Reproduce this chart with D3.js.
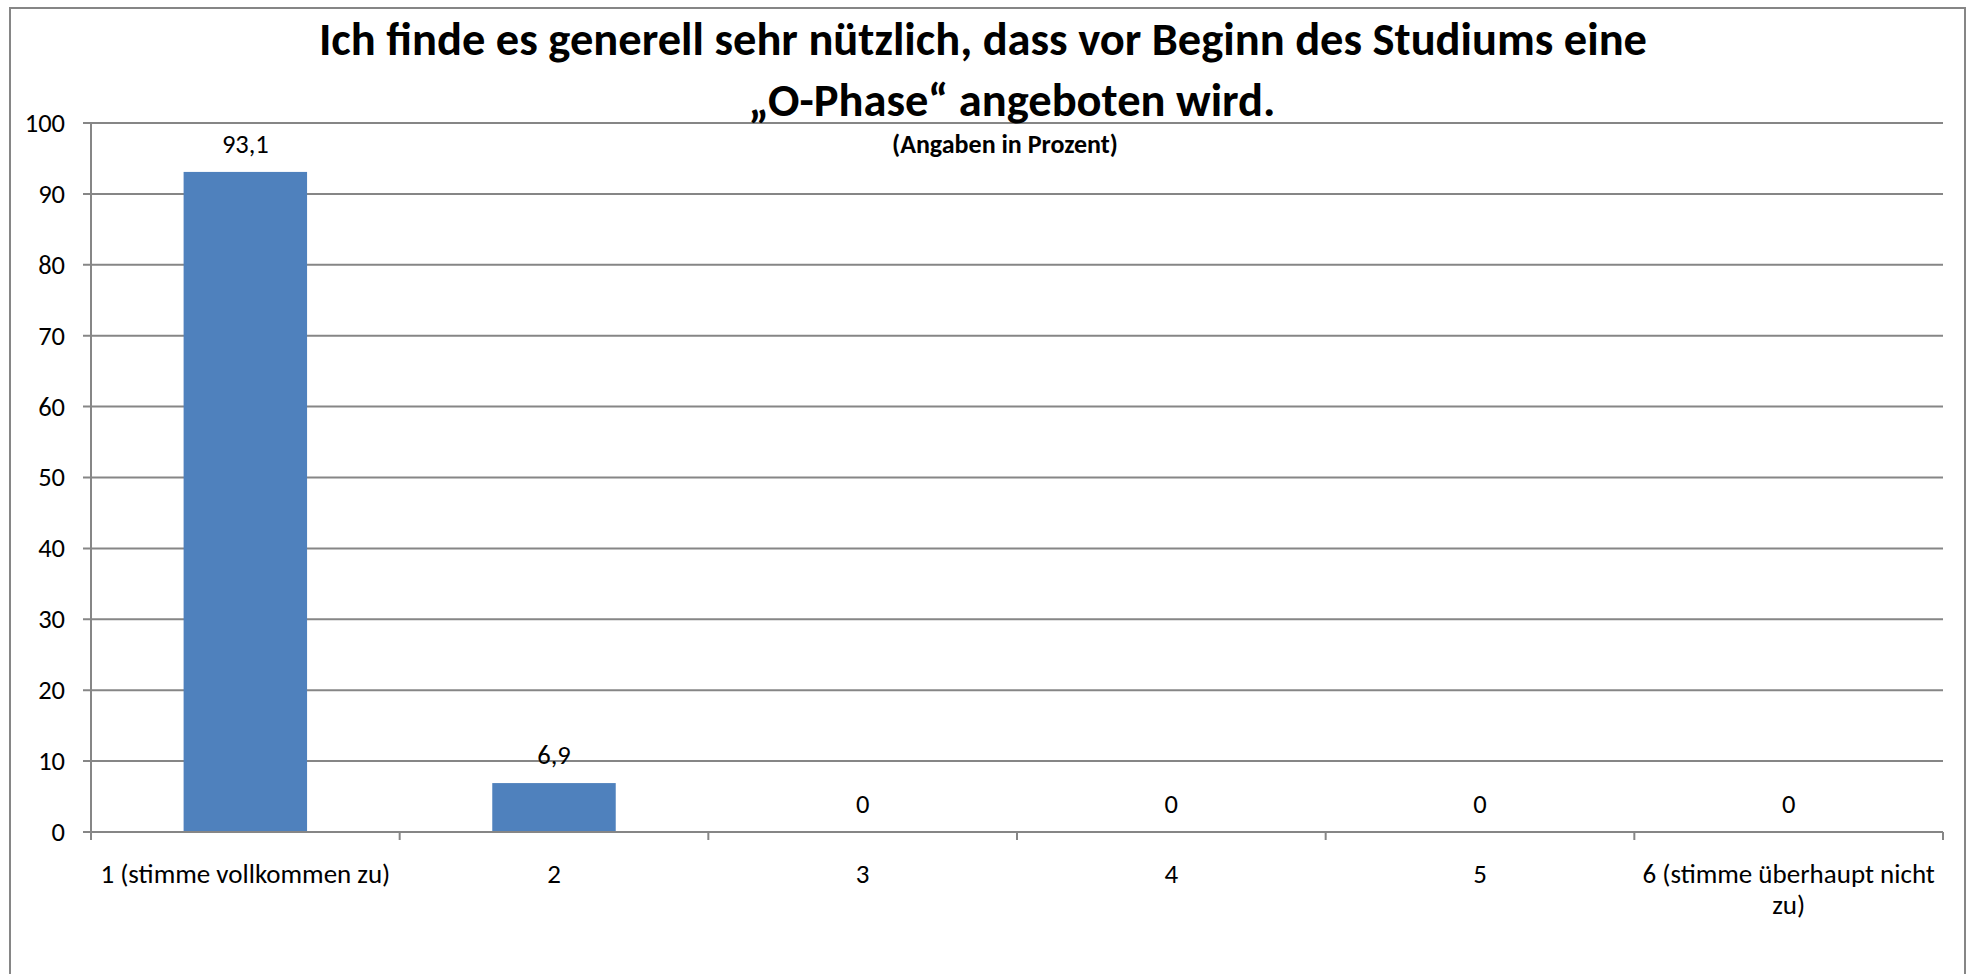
<!DOCTYPE html>
<html>
<head>
<meta charset="utf-8">
<script src="https://cdn.jsdelivr.net/npm/d3@7"></script>
<style>
  body { margin: 0; background: #ffffff; }
  svg { display: block; }
  text { font-family: Carlito, Calibri, Lato, sans-serif; fill: #000; }
</style>
</head>
<body>
<div id="chart"></div>
<script>
// data
const categories = ['1 (stimme vollkommen zu)', '2', '3', '4', '5', '6 (stimme überhaupt nicht zu)']
const values = [93.1, 6.9, 0, 0, 0, 0]
const valueLabels = ['93,1', '6,9', '0', '0', '0', '0']
const yTicks = [0, 10, 20, 30, 40, 50, 60, 70, 80, 90, 100]
const titleLines = ['Ich finde es generell sehr nützlich, dass vor Beginn des Studiums eine', '„O-Phase“ angeboten wird.']
const subtitle = '(Angaben in Prozent)'

const W = 1966, H = 974
const margin = {top: 123, right: 23, bottom: 142, left: 91}
const width = W - margin.left - margin.right
const height = H - margin.top - margin.bottom
const grey = '#868686'
const labelSize = '26.5px'

const svg = d3.select('#chart')
  .append('svg')
    .attr('width', W)
    .attr('height', H)

// outer chart border (bottom edge runs off the picture)
svg.append('rect')
  .attr('x', 10)
  .attr('y', 8)
  .attr('width', 1955)
  .attr('height', 1000)
  .style('fill', '#ffffff')
  .style('stroke', grey)
  .style('stroke-width', 2)

const g = svg.append('g')
  .attr('transform', 'translate(' + margin.left + ',' + margin.top + ')')

// scales
const x = d3.scaleBand()
  .domain(categories)
  .range([0, width])
  .padding(0)

const y = d3.scaleLinear()
  .domain([0, 100])
  .range([height, 0])

// gridlines + small ticks left of the axis
g.append('g')
  .selectAll('line')
  .data(yTicks)
  .enter()
  .append('line')
    .attr('x1', -8)
    .attr('x2', width)
    .attr('y1', d => y(d))
    .attr('y2', d => y(d))
    .style('stroke', grey)
    .style('stroke-width', 2)

// y axis (labels only, lines drawn above)
const yAxis = g.append('g')
  .call(d3.axisLeft(y).tickValues(yTicks).tickSize(0).tickPadding(26))
yAxis.select('.domain').remove()
yAxis.selectAll('text')
  .style('font-size', labelSize)
  .style('font-family', 'Carlito, Calibri, Lato, sans-serif')
  .style('fill', '#000')

// y axis line
g.append('line')
  .attr('x1', 0).attr('x2', 0)
  .attr('y1', 0).attr('y2', height)
  .style('stroke', grey)
  .style('stroke-width', 2)

// bars
const barW = x.bandwidth() * 0.4
g.append('g')
  .selectAll('rect')
  .data(values)
  .enter()
  .append('rect')
    .attr('x', (d, i) => x(categories[i]) + (x.bandwidth() - barW) / 2)
    .attr('y', d => y(d))
    .attr('width', barW)
    .attr('height', d => height - y(d))
    .style('fill', '#4F81BD')

// x axis line and boundary ticks
g.append('line')
  .attr('x1', 0).attr('x2', width)
  .attr('y1', height).attr('y2', height)
  .style('stroke', grey)
  .style('stroke-width', 2)

const bounds = categories.map(c => x(c)).concat([width])
g.append('g')
  .selectAll('line')
  .data(bounds)
  .enter()
  .append('line')
    .attr('x1', d => d).attr('x2', d => d)
    .attr('y1', height).attr('y2', height + 8)
    .style('stroke', grey)
    .style('stroke-width', 2)

// value labels
g.append('g')
  .selectAll('text')
  .data(values)
  .enter()
  .append('text')
    .attr('x', (d, i) => x(categories[i]) + x.bandwidth() / 2)
    .attr('y', d => y(d) - 19)
    .attr('text-anchor', 'middle')
    .style('font-size', labelSize)
    .text((d, i) => valueLabels[i])

// category labels, wrapped to the band width
const catLabels = g.append('g')
  .selectAll('text')
  .data(categories)
  .enter()
  .append('text')
    .attr('x', d => x(d) + x.bandwidth() / 2)
    .attr('y', height + 51)
    .attr('text-anchor', 'middle')
    .style('font-size', '27px')
    .text(d => d)

catLabels.each(function(d) {
  const t = d3.select(this)
  const words = d.split(' ')
  const maxW = x.bandwidth() - 10
  t.text(null)
  let line = []
  let tspan = t.append('tspan').attr('x', t.attr('x')).attr('dy', 0)
  words.forEach(w => {
    line.push(w)
    tspan.text(line.join(' '))
    if (tspan.node().getComputedTextLength() > maxW && line.length > 1) {
      line.pop()
      tspan.text(line.join(' '))
      line = [w]
      tspan = t.append('tspan').attr('x', t.attr('x')).attr('dy', '31').text(w)
    }
  })
})

// title (the two lines sit a little off each other's centre in the original)
const titleX = [983, 1012]
svg.append('g')
  .selectAll('text')
  .data(titleLines)
  .enter()
  .append('text')
    .attr('x', (d, i) => titleX[i])
    .attr('y', (d, i) => 55 + i * 61)
    .attr('text-anchor', 'middle')
    .style('font-size', '46.5px')
    .style('font-weight', 'bold')
    .text(d => d)

svg.append('text')
  .attr('x', 1005)
  .attr('y', 153)
  .attr('text-anchor', 'middle')
  .style('font-size', '26px')
  .style('font-weight', 'bold')
  .text(subtitle)
</script>
</body>
</html>
